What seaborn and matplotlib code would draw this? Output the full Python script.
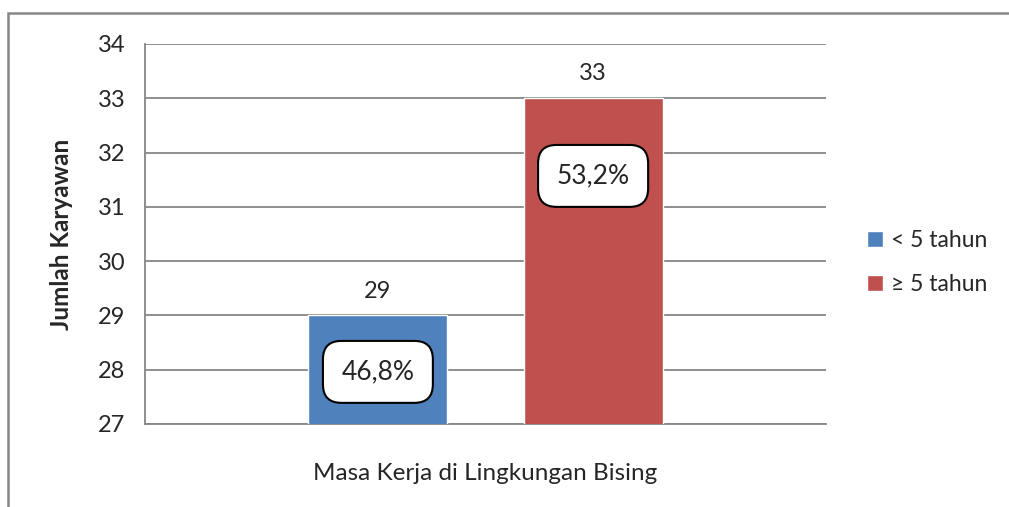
# import libraries
import matplotlib
matplotlib.use("Agg")
import matplotlib.pyplot as plt
import seaborn as sns
import pandas as pd
from matplotlib.patches import Rectangle

# chart data
category = ["Masa Kerja di Lingkungan Bising"]
groups = ["< 5 tahun", "\u2265 5 tahun"]
counts = [29, 33]
percent_labels = ["46,8%", "53,2%"]
percent_y = [27.96, 31.57]  # where the rounded boxes sit on the y axis
y_ticks = [27, 28, 29, 30, 31, 32, 33, 34]
colors = ["#4F81BD", "#C0504D"]

df = pd.DataFrame({"kategori": category * len(groups), "kelompok": groups, "jumlah": counts})

sns.set_style("white")
plt.rcParams["font.family"] = ["Lato", "DejaVu Sans"]

fig = plt.figure(figsize=(10.09, 5.07), dpi=100)
ax = fig.add_axes([145 / 1009, 1 - 424 / 507, 681 / 1009, 380 / 507])

sns.barplot(data=df, x="kategori", y="jumlah", hue="kelompok", palette=colors, saturation=1,
            width=0.632, gap=0.354, ax=ax, legend=True, zorder=3)

# limits, grid, spines
ax.set_ylim(27, 34)
ax.set_xlim(-0.5, 0.5)
ax.set_yticks(y_ticks)
ax.tick_params(axis="y", labelsize=17, length=8, color="#868686", width=1.3, pad=6)
ax.tick_params(axis="x", labelsize=17.5, length=0, pad=28)
ax.yaxis.grid(True, color="#868686", linewidth=1.3, zorder=0)
ax.set_axisbelow(True)
for side in ["top", "right"]:
    ax.spines[side].set_visible(False)
for side in ["left", "bottom"]:
    ax.spines[side].set_color("#868686")
    ax.spines[side].set_linewidth(1.3)

ax.set_xlabel("")
ax.set_ylabel("Jumlah Karyawan", fontsize=17.5, fontweight="bold", labelpad=18)

# value labels and percent boxes
for bars in ax.containers:
    ax.bar_label(bars, fontsize=17, padding=10)
for i, bars in enumerate(ax.containers):
    bar = bars[0]
    xc = bar.get_x() + bar.get_width() / 2
    ax.text(xc, percent_y[i], percent_labels[i], ha="center", va="center", fontsize=19,
            bbox=dict(boxstyle="round,pad=0.7,rounding_size=0.7", fc="white", ec="black", lw=1.5),
            zorder=5)

# legend outside right
leg = ax.legend(loc="center left", bbox_to_anchor=(1.03, 0.425), frameon=False, fontsize=16.5,
                handlelength=0.7, handleheight=0.7, handletextpad=0.35, labelspacing=1.0)

# outer chart border (only left/top show in frame)
fig.patches.append(Rectangle((8 / 1009, -0.1), 1.2, 1 - 13 / 507 + 0.1, transform=fig.transFigure,
                             fill=False, edgecolor="#868686", linewidth=1.8))

fig.savefig("out.png", dpi=100)
